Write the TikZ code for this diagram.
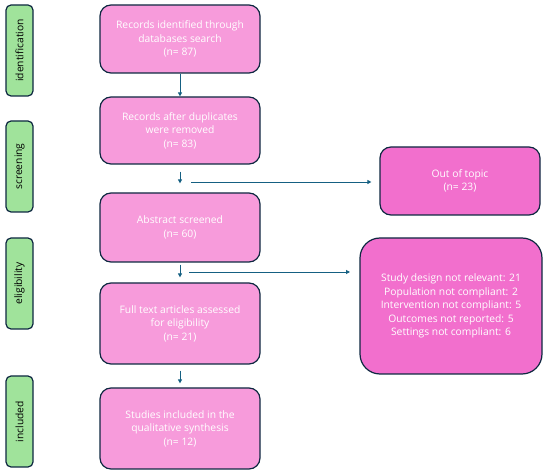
\documentclass[tikz,border=0pt]{standalone}
\usepackage{fontspec}
\setmainfont{Open Sans}
\usepackage{xcolor}
\usepackage{tikz}
\usetikzlibrary{arrows.meta,positioning,calc}

\definecolor{stagegreen}{HTML}{A0E39B}
\definecolor{boxpink}{HTML}{F79BDB}
\definecolor{exclpink}{HTML}{F26FCD}
\definecolor{edgenavy}{HTML}{0E2841}
\definecolor{arrowteal}{HTML}{156082}

\begin{document}
\begin{tikzpicture}[x=1pt, y=-1pt,
    every node/.style={font=\fontsize{10.3}{13.5}\selectfont},
    stage/.style={draw=edgenavy, line width=1.2pt, fill=stagegreen, rounded corners=5pt, rotate=90, minimum width=91pt, minimum height=27pt, inner sep=0pt},
    flowbox/.style={draw=edgenavy, line width=1.2pt, fill=boxpink, rounded corners=11pt, text=white, align=center, minimum width=160pt, inner sep=0pt},
    exclbox/.style={draw=edgenavy, line width=1.2pt, fill=exclpink, text=white, align=center, inner sep=0pt},
    flow/.style={draw=arrowteal, line width=0.9pt, -{Triangle[length=4pt,width=4pt]}}]
    \useasboundingbox (0,0) rectangle (550,473);
    % stage labels
    \node[stage] (ident) at (19.5,50.5) {identification};
    \node[stage] (screen) at (19.5,166.5) {screening};
    \node[stage] (elig) at (19.5,283.5) {eligibility};
    \node[stage] (incl) at (19.5,421.5) {included};
    % main column
    \node[flowbox, minimum height=68pt] (found) at (180,39) {Records identified through\\databases search\\(n= 87)};
    \node[flowbox, minimum height=67pt] (dedup) at (180,130.5) {Records after duplicates\\were removed\\(n= 83)};
    \node[flowbox, minimum height=69pt] (abstr) at (180,227.5) {Abstract screened\\(n= 60)};
    \node[flowbox, minimum height=81pt] (fulltxt) at (180,323.5) {Full text articles assessed\\for eligibility\\(n= 21)};
    \node[flowbox, minimum height=81pt] (synth) at (180,428.5) {Studies included in the\\qualitative synthesis\\(n= 12)};
    % exclusions
    \node[exclbox, rounded corners=11pt, minimum width=160pt, minimum height=68pt] (topic) at (460,181) {Out of topic\\(n= 23)};
    \node[exclbox, rounded corners=20pt, minimum width=182pt, minimum height=136pt] (reasons) at (451,306) {Study design not relevant: 21\\Population not compliant: 2\\Intervention not compliant: 5\\Outcomes not reported: 5\\Settings not compliant: 6};
    \coordinate (branch1) at (191,182);
    \coordinate (branch2) at (189,272);
    \coordinate (reasonsin) at (350,272);
    \draw[flow] (found) -- (dedup);
    \draw[flow, shorten <=7pt, shorten >=9pt] (dedup) -- (abstr);
    \draw[flow, shorten <=2pt, shorten >=5pt] (abstr) -- (fulltxt);
    \draw[flow, shorten <=6pt, shorten >=4pt] (fulltxt) -- (synth);
    \draw[flow, shorten >=8pt] (branch1) -- (branch1 -| topic.west);
    \draw[flow] (branch2) -- (reasonsin);
  \end{tikzpicture}
\end{document}
